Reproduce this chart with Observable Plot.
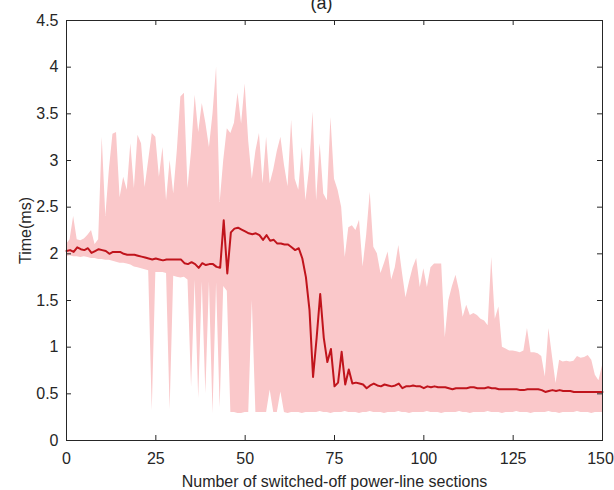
<!DOCTYPE html>
<html>
<head>
<meta charset="utf-8">
<script src="https://cdn.jsdelivr.net/npm/d3@7"></script>
<script src="https://cdn.jsdelivr.net/npm/@observablehq/plot@0.6"></script>
<style>
  html, body { margin: 0; padding: 0; background: white; }
</style>
</head>
<body>
<div id="chart"></div>
<script>
// Number of switched-off power-line sections: 0..150
const xValues = d3.range(0, 151);

// Upper envelope (max time, ms)
const upper = [
  2.1,2.15,2.4,2.15,2.14,2.16,2.2,2.25,2.1,2.15,
  3.25,2.4,2.9,3.28,3.3,2.6,2.82,2.68,3.18,2.7,
  3.27,3.18,2.71,3.0,3.29,3.25,2.82,3.14,2.57,3.0,
  2.64,3.1,3.68,3.72,2.7,3.1,3.7,3.3,3.61,3.4,
  3.14,3.5,4.0,2.55,3.0,3.34,3.29,3.4,3.72,3.39,
  3.82,3.2,2.8,3.1,3.29,2.75,3.25,2.75,2.9,3.1,
  3.25,2.95,2.72,3.43,2.8,2.68,3.14,2.57,2.9,3.52,
  2.57,3.18,2.64,2.57,3.46,2.8,2.68,2.5,1.96,2.28,
  2.3,2.25,2.36,1.86,2.2,2.66,2.07,2.0,1.79,1.9,
  2.02,1.72,1.85,2.09,1.8,1.53,1.7,1.85,1.95,1.64,
  1.84,1.64,1.85,1.89,1.89,1.89,1.1,1.5,1.65,1.77,
  1.6,1.32,1.45,1.34,1.36,1.34,1.3,1.28,1.23,1.96,
  1.3,1.43,1.0,0.98,0.96,0.96,0.95,0.94,0.96,1.2,
  0.94,0.94,0.93,0.9,0.68,1.2,0.9,0.61,0.86,0.84,
  0.85,0.84,0.85,0.9,0.88,0.89,0.91,0.86,0.7,0.64,
  0.8
];

// Lower envelope (min time, ms)
const lower = [
  1.97,1.98,1.97,1.97,1.96,1.97,1.96,1.95,1.95,1.94,
  1.94,1.93,1.93,1.92,1.91,1.9,1.9,1.89,1.88,1.86,
  1.85,1.84,1.83,1.82,0.32,1.8,1.8,1.8,1.79,0.33,
  1.76,1.75,1.74,1.75,1.72,0.57,1.72,0.45,1.7,0.5,
  1.7,0.29,1.69,0.35,1.65,1.6,0.3,0.3,0.29,0.29,
  0.3,0.3,1.5,0.3,0.3,0.3,0.3,0.54,0.3,0.3,
  0.52,0.3,0.29,0.3,0.3,0.3,0.29,0.3,0.3,0.3,
  0.3,0.31,0.3,0.3,0.29,0.3,0.3,0.3,0.31,0.3,
  0.3,0.3,0.29,0.3,0.3,0.31,0.3,0.3,0.3,0.29,
  0.3,0.3,0.3,0.31,0.3,0.3,0.29,0.3,0.3,0.3,
  0.3,0.31,0.3,0.3,0.3,0.29,0.3,0.3,0.3,0.3,
  0.31,0.3,0.3,0.29,0.3,0.3,0.3,0.3,0.31,0.3,
  0.3,0.3,0.29,0.3,0.3,0.3,0.31,0.3,0.3,0.3,
  0.29,0.3,0.3,0.3,0.3,0.31,0.3,0.3,0.29,0.3,
  0.3,0.3,0.3,0.31,0.3,0.3,0.3,0.29,0.3,0.3,
  0.3
];

// Mean time (ms)
const mean = [
  2.03,2.04,2.02,2.07,2.05,2.04,2.06,2.01,2.03,2.05,
  2.04,2.03,2.0,2.02,2.02,2.02,2.0,1.99,1.99,1.99,
  1.98,1.97,1.96,1.95,1.94,1.95,1.94,1.93,1.94,1.94,
  1.94,1.94,1.94,1.9,1.89,1.91,1.89,1.85,1.9,1.88,
  1.89,1.89,1.86,1.85,2.36,1.79,2.23,2.27,2.28,2.26,
  2.24,2.22,2.21,2.22,2.2,2.15,2.2,2.14,2.15,2.11,
  2.11,2.1,2.1,2.07,2.04,2.06,1.95,1.75,1.4,0.68,
  1.1,1.57,1.1,0.84,0.98,0.58,0.62,0.95,0.6,0.76,
  0.61,0.62,0.61,0.6,0.56,0.59,0.61,0.59,0.58,0.6,
  0.59,0.58,0.59,0.61,0.56,0.58,0.58,0.59,0.58,0.58,
  0.56,0.58,0.57,0.58,0.57,0.57,0.57,0.56,0.55,0.56,
  0.56,0.56,0.56,0.57,0.57,0.56,0.56,0.56,0.57,0.56,
  0.56,0.55,0.55,0.55,0.55,0.55,0.55,0.54,0.54,0.55,
  0.55,0.55,0.55,0.54,0.52,0.53,0.54,0.53,0.54,0.53,
  0.53,0.53,0.52,0.52,0.52,0.52,0.52,0.52,0.52,0.52,
  0.52
];

const xTicks = [0, 25, 50, 75, 100, 125, 150];
const yTicks = [0, 0.5, 1, 1.5, 2, 2.5, 3, 3.5, 4, 4.5];

const data = xValues.map((x, i) => ({x, lo: lower[i], hi: upper[i], mean: mean[i]}));

const W = 614, H = 490, ML = 66, MR = 12, MT = 20, MB = 50;
const frameW = W - ML - MR, frameH = H - MT - MB;
const tickLen = 5;
const axisColor = "#262626";
const lastTick = xTicks[xTicks.length - 1];

const chart = Plot.plot({
  width: W,
  height: H,
  marginLeft: ML,
  marginRight: MR,
  marginTop: MT,
  marginBottom: MB,
  x: {domain: [0, 150]},
  y: {domain: [0, 4.5]},
  style: {fontFamily: "'Liberation Sans', Arial, sans-serif", fontSize: "16px", color: axisColor, background: "white"},
  marks: [
    Plot.areaY(data, {x: "x", y1: "lo", y2: "hi", fill: "#fac8ca", curve: "linear"}),
    Plot.lineY(data, {x: "x", y: "mean", stroke: "#c0141c", strokeWidth: 2}),
    Plot.frame({stroke: axisColor, strokeWidth: 1}),
    Plot.tickX(xTicks, {x: d => d, insetTop: frameH - tickLen, stroke: axisColor}),
    Plot.tickX(xTicks, {x: d => d, insetBottom: frameH - tickLen, stroke: axisColor}),
    Plot.tickY(yTicks, {y: d => d, insetRight: frameW - tickLen, stroke: axisColor}),
    Plot.tickY(yTicks, {y: d => d, insetLeft: frameW - tickLen, stroke: axisColor}),
    Plot.axisX(xTicks.filter(d => d !== lastTick), {tickSize: 0, tickPadding: 12, tickFormat: d => String(d), label: "Number of switched-off power-line sections", labelAnchor: "center", labelArrow: "none", labelOffset: 46, fontSize: 16}),
    Plot.axisX([lastTick], {tickSize: 0, tickPadding: 12, tickFormat: d => String(d), label: null, dx: -2, fontSize: 16}),
    Plot.axisY(yTicks, {tickSize: 0, tickPadding: 8, tickFormat: d => String(d), label: "Time(ms)", labelAnchor: "center", labelArrow: "none", labelOffset: 47, fontSize: 16}),
    Plot.text(["(a)"], {text: d => d, frameAnchor: "top", dy: -24, dx: -13, fontSize: 18})
  ]
});

document.getElementById("chart").appendChild(chart);
</script>
</body>
</html>
